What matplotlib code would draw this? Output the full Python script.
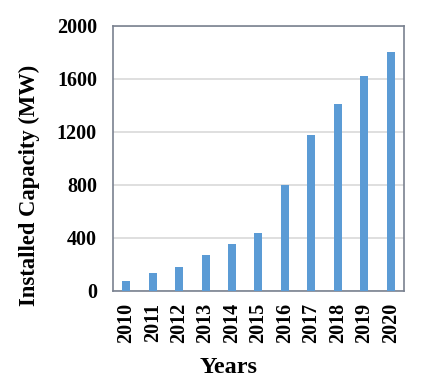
import matplotlib
matplotlib.use("Agg")
import matplotlib.pyplot as plt

years = ["2010", "2011", "2012", "2013", "2014", "2015", "2016", "2017", "2018", "2019", "2020"]
capacity = [75, 136, 183, 267, 350, 433, 798, 1175, 1409, 1623, 1801]
yticks = [0, 400, 800, 1200, 1600, 2000]

plt.rcParams['font.family'] = ['Liberation Serif', 'DejaVu Serif']
fig = plt.figure(figsize=(4.23, 3.92), dpi=100)
ax = fig.add_axes([0.267, 0.258, 0.688, 0.676])
x = list(range(len(years)))
ax.bar(x, capacity, width=0.3, color="#5B9BD5", zorder=3)
ax.set_xlim(-0.5, len(years) - 0.5)
ax.set_ylim(0, 2000)
ax.set_yticks(yticks)
ax.set_yticklabels([str(v) for v in yticks], fontsize=14.5, fontweight='bold')
ax.set_xticks(x)
ax.set_xticklabels(years, rotation=90, fontsize=14.5, fontweight='bold')
ax.tick_params(axis='y', length=0, pad=11.5)
ax.tick_params(axis='x', length=0, pad=8.5)
ax.grid(axis='y', color="#d9d9d9", linewidth=1.2, zorder=0)
for s in ax.spines.values():
    s.set_color("#7a8290")
    s.set_linewidth(1.2)
ax.set_ylabel("Installed Capacity (MW)", fontsize=16.3, fontweight='bold')
ax.yaxis.set_label_coords(-0.252, 0.398)
ax.set_xlabel("Years", fontsize=17.5, fontweight='bold')
ax.xaxis.set_label_coords(0.397, -0.249)
fig.savefig("out.png", dpi=100)
